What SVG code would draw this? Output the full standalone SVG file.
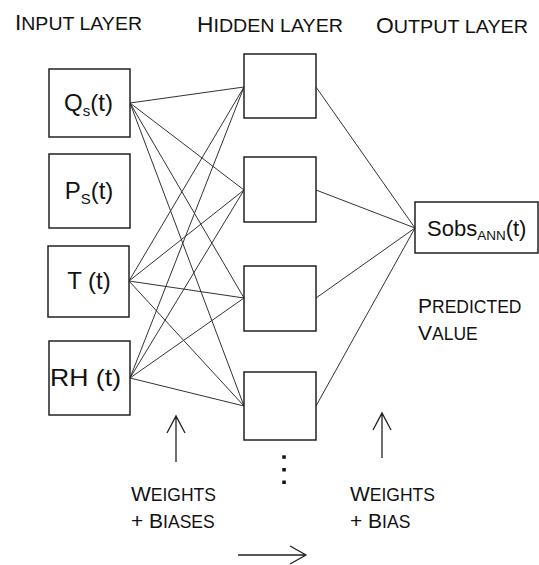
<svg xmlns="http://www.w3.org/2000/svg" width="539" height="565" viewBox="0 0 539 565">
<style>
text{font-family:"Liberation Sans",Arial,sans-serif;fill:#111}
.box{fill:#fff;stroke:#222;stroke-width:1.5}
.hdr{font-size:19px}
.hdr .cap{font-size:22px}
.lbl{font-size:17.5px}
.lbl .cap{font-size:21px}
.in{font-size:24px}
.sub{font-size:15px}
.out{font-size:22px}
.osub{font-size:13.5px}
#connectors line{stroke:#333;stroke-width:1}
.arr{fill:none;stroke:#222;stroke-width:1.3}
</style>
<rect width="539" height="565" fill="#fff"/>

<g id="headers">
<text class="hdr" x="15" y="30" textLength="127" lengthAdjust="spacingAndGlyphs"><tspan class="cap">I</tspan>NPUT LAYER</text>
<text class="hdr" x="197" y="31.5" textLength="146" lengthAdjust="spacingAndGlyphs"><tspan class="cap">H</tspan>IDDEN LAYER</text>
<text class="hdr" x="376" y="33" textLength="152" lengthAdjust="spacingAndGlyphs"><tspan class="cap">O</tspan>UTPUT LAYER</text>
</g>

<g id="connectors">
<line x1="130" y1="103" x2="244" y2="87"/>
<line x1="130" y1="103" x2="244" y2="190"/>
<line x1="130" y1="103" x2="244" y2="298"/>
<line x1="130" y1="103" x2="244" y2="406"/>
<line x1="129" y1="281" x2="244" y2="87"/>
<line x1="129" y1="281" x2="244" y2="190"/>
<line x1="129" y1="281" x2="244" y2="298"/>
<line x1="129" y1="281" x2="244" y2="406"/>
<line x1="130" y1="378" x2="244" y2="87"/>
<line x1="130" y1="378" x2="244" y2="190"/>
<line x1="130" y1="378" x2="244" y2="298"/>
<line x1="130" y1="378" x2="244" y2="406"/>
<line x1="316" y1="87" x2="415" y2="228"/>
<line x1="316" y1="190" x2="415" y2="228"/>
<line x1="316" y1="298" x2="415" y2="228"/>
<line x1="316" y1="406" x2="415" y2="228"/>
</g>

<g id="in-q">
<rect class="box" x="49" y="69" width="81" height="68"/>
<text class="in" x="88.5" y="111" text-anchor="middle">Q<tspan class="sub" dy="5">s</tspan><tspan dy="-5">(t)</tspan></text>
</g>
<g id="in-p">
<rect class="box" x="49" y="154" width="81" height="74"/>
<text class="in" x="89" y="199" text-anchor="middle">P<tspan class="sub" dy="5">S</tspan><tspan dy="-5">(t)</tspan></text>
</g>
<g id="in-t">
<rect class="box" x="48" y="246" width="81" height="71"/>
<text class="in" x="89" y="289" text-anchor="middle">T (t)</text>
</g>
<g id="in-rh">
<rect class="box" x="49" y="341" width="81" height="74"/>
<text class="in" x="50" y="386" textLength="71" lengthAdjust="spacingAndGlyphs">RH (t)</text>
</g>

<g id="hid-1"><rect class="box" x="244" y="54" width="72" height="64"/></g>
<g id="hid-2"><rect class="box" x="244" y="157" width="72" height="65"/></g>
<g id="hid-3"><rect class="box" x="244" y="266" width="72" height="65"/></g>
<g id="hid-4"><rect class="box" x="244" y="372" width="72" height="68"/></g>

<g id="hid-more" fill="#111">
<rect x="282.3" y="455.3" width="3.5" height="3.5"/>
<rect x="282.3" y="468" width="3.5" height="3.5"/>
<rect x="282.3" y="480.5" width="3.5" height="3.5"/>
</g>

<g id="out">
<rect class="box" x="415" y="202" width="123" height="51"/>
<text class="out" x="427" y="236">Sobs<tspan class="osub" dy="4">ANN</tspan><tspan dy="-4">(t)</tspan></text>
</g>

<g id="predicted">
<text class="lbl" x="418" y="313"><tspan class="cap">P</tspan>REDICTED</text>
<text class="lbl" x="418" y="340"><tspan class="cap">V</tspan>ALUE</text>
</g>

<g id="weights-biases">
<path class="arr" d="M176 462V416M167 433L176 416L185 433"/>
<text class="lbl" x="131" y="501"><tspan class="cap">W</tspan>EIGHTS</text>
<text class="lbl" x="131" y="528"><tspan class="cap">+ B</tspan>IASES</text>
</g>

<g id="weights-bias">
<path class="arr" d="M382 458V413M373 430L382 413L391 430"/>
<text class="lbl" x="350" y="501"><tspan class="cap">W</tspan>EIGHTS</text>
<text class="lbl" x="350" y="528"><tspan class="cap">+ B</tspan>IAS</text>
</g>

<g id="direction">
<path class="arr" d="M238 555H306M290 546L306 555L290 564"/>
</g>
</svg>
